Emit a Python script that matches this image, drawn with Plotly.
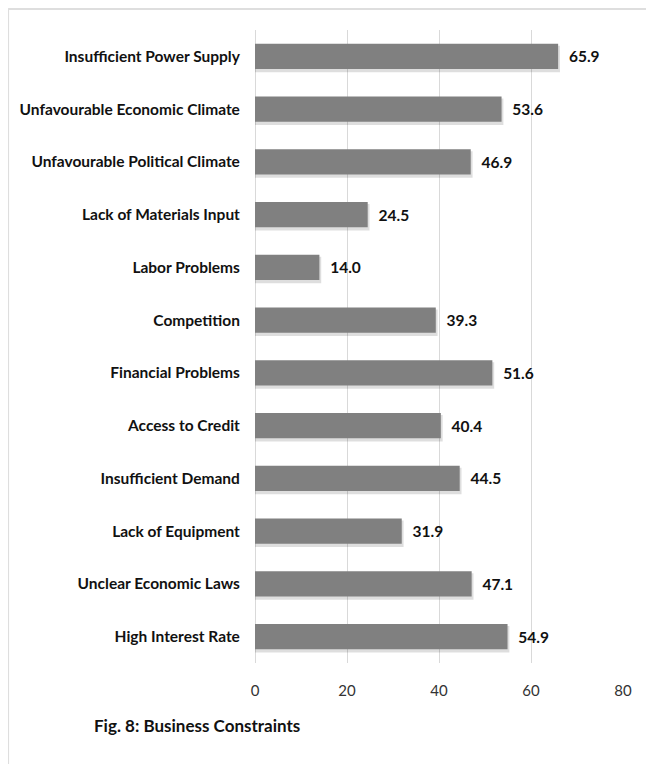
import plotly.graph_objects as go

categories = ["Insufficient Power Supply", "Unfavourable Economic Climate",
              "Unfavourable Political Climate", "Lack of Materials Input",
              "Labor Problems", "Competition", "Financial Problems",
              "Access to Credit", "Insufficient Demand", "Lack of Equipment",
              "Unclear Economic Laws", "High Interest Rate"]
values = [65.9, 53.6, 46.9, 24.5, 14.0, 39.3, 51.6, 40.4, 44.5, 31.9, 47.1, 54.9]
tick_vals = [0, 20, 40, 60, 80]
caption = "Fig. 8: Business Constraints"

FONT = "Lato, sans-serif"

fig = go.Figure()
# soft shadow behind bars
fig.add_trace(go.Bar(
    y=categories, x=[v + 0.4 for v in values], orientation="h",
    marker=dict(color="rgba(0,0,0,0.13)", line=dict(width=0)),
    width=0.5, offset=-0.2, hoverinfo="skip",
))
fig.add_trace(go.Bar(
    y=categories, x=values, orientation="h",
    marker=dict(color="#808080", line=dict(width=0)),
    width=0.48, offset=-0.24,
    text=["\u2002" + f"<b>{v:.1f}</b>" for v in values], textposition="outside",
    textfont=dict(family=FONT, size=15.5, color="#111111"),
    cliponaxis=False,
))

fig.update_layout(
    width=646, height=756,
    margin=dict(l=247, r=31, t=22, b=101),
    paper_bgcolor="white", plot_bgcolor="white",
    showlegend=False, barmode="overlay",
    font=dict(family=FONT),
    xaxis=dict(range=[0, 80], tickvals=tick_vals, showgrid=True,
               gridcolor="#d9d9d9", gridwidth=1, zeroline=True,
               zerolinecolor="#d9d9d9", zerolinewidth=1,
               tickfont=dict(family=FONT, size=15, color="#333333"),
               ticks="outside", ticklen=14, tickcolor="rgba(0,0,0,0)",
               showline=False),
    yaxis=dict(autorange="reversed", tickfont=dict(family=FONT, size=15.5, color="#111111"),
               ticks="outside", ticklen=11, tickcolor="rgba(0,0,0,0)",
               showgrid=False),
    shapes=[
        dict(type="line", xref="paper", yref="paper", x0=-0.671, x1=1.09,
             y0=1.033, y1=1.033, line=dict(color="#dedede", width=2)),
        dict(type="line", xref="paper", yref="paper", x0=-0.671, x1=-0.671,
             y0=1.033, y1=-0.2, line=dict(color="#dedede", width=2)),
    ],
    annotations=[dict(text="<b>" + caption + "</b>", xref="paper", yref="paper",
                      x=-0.443, y=-0.098, xanchor="left", yanchor="middle",
                      showarrow=False, font=dict(family=FONT, size=17, color="#111111"))],
)
fig.update_yaxes(tickprefix="<b>", ticksuffix="</b>")
fig.write_html("out.html")
